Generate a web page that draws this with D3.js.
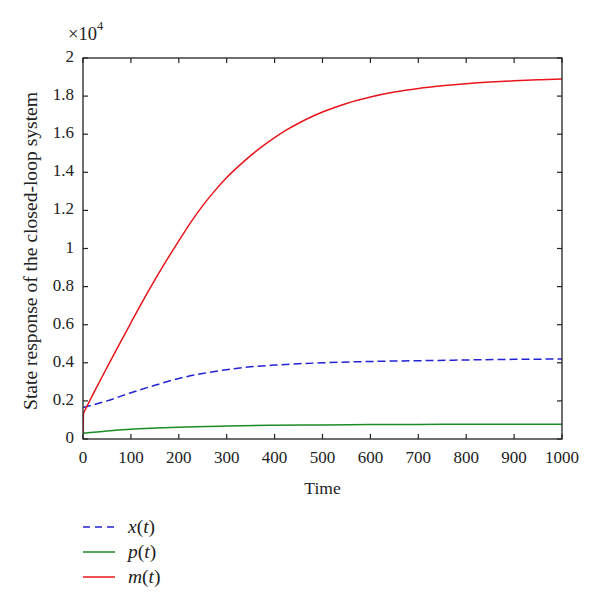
<!DOCTYPE html>
<html>
<head>
<meta charset="utf-8">
<script src="https://cdn.jsdelivr.net/npm/d3@7"></script>
<style>
  html, body { margin: 0; padding: 0; background: #fff; }
  svg { display: block; }
  text { font-family: "Liberation Serif", "DejaVu Serif", serif; fill: #222; }
</style>
</head>
<body>
<svg id="chart" width="600" height="609"></svg>
<script>
// ---- data ----
const xTicks = [0, 100, 200, 300, 400, 500, 600, 700, 800, 900, 1000];
const yTicks = [0, 2000, 4000, 6000, 8000, 10000, 12000, 14000, 16000, 18000, 20000];
const yTickLabels = ["0", "0.2", "0.4", "0.6", "0.8", "1", "1.2", "1.4", "1.6", "1.8", "2"];

const tX = [0, 50, 100, 150, 200, 250, 300, 350, 400, 450, 500, 600, 700, 800, 900, 1000];
const xVals = [1650, 2000, 2430, 2820, 3180, 3440, 3640, 3790, 3880, 3950, 4000, 4070, 4110, 4150, 4180, 4200];

const tP = [0, 50, 100, 150, 200, 300, 400, 500, 600, 700, 800, 900, 1000];
const pVals = [300, 420, 510, 570, 620, 680, 720, 740, 755, 765, 770, 775, 780];

const tM = [0, 1, 25, 50, 75, 100, 125, 150, 175, 200, 225, 250, 275, 300, 325, 350, 375, 400, 425, 450, 475, 500, 550, 600, 650, 700, 750, 800, 850, 900, 950, 1000];
const mVals = [300, 1360, 2550, 3750, 4930, 6100, 7250, 8350, 9400, 10400, 11375, 12250, 13025, 13725, 14325, 14875, 15375, 15825, 16225, 16575, 16887, 17162, 17612, 17952, 18212, 18402, 18542, 18652, 18737, 18802, 18852, 18897];

const seriesNames = ["x(t)", "p(t)", "m(t)"];
const seriesColors = ["#2323d6", "#1e8c24", "#e8161c"];

// ---- layout ----
const svg = d3.select("#chart");
const L = 83, R = 562, T = 58, B = 439;
const x = d3.scaleLinear().domain([0, 1000]).range([L, R]);
const y = d3.scaleLinear().domain([0, 20000]).range([B, T]);

const tickLen = 5;
const g = svg.append("g");

// ticks (inward, mirrored)
xTicks.forEach(v => {
  g.append("line").attr("x1", x(v)).attr("x2", x(v)).attr("y1", B).attr("y2", B - tickLen)
    .attr("stroke", "#222").attr("stroke-width", 1.2);
  g.append("line").attr("x1", x(v)).attr("x2", x(v)).attr("y1", T).attr("y2", T + tickLen)
    .attr("stroke", "#222").attr("stroke-width", 1.2);
  g.append("text").attr("x", x(v)).attr("y", 463).attr("text-anchor", "middle")
    .attr("font-size", 17).text(v);
});
yTicks.forEach((v, i) => {
  g.append("line").attr("x1", L).attr("x2", L + tickLen).attr("y1", y(v)).attr("y2", y(v))
    .attr("stroke", "#222").attr("stroke-width", 1.2);
  g.append("line").attr("x1", R).attr("x2", R - tickLen).attr("y1", y(v)).attr("y2", y(v))
    .attr("stroke", "#222").attr("stroke-width", 1.2);
  g.append("text").attr("x", 74).attr("y", y(v) + 4).attr("text-anchor", "end")
    .attr("font-size", 17).text(yTickLabels[i]);
});

// exponent label
const ex = g.append("text").attr("x", 68).attr("y", 40).attr("font-size", 18.5);
ex.append("tspan").text("\u00d710");
ex.append("tspan").attr("dy", -10).attr("font-size", 12.5).text("4");

// lines
const line = d3.line().x(d => x(d[0])).y(d => y(d[1])).curve(d3.curveMonotoneX);
const straight = d3.line().x(d => x(d[0])).y(d => y(d[1]));
const dataX = tX.map((t, i) => [t, xVals[i]]);
const dataP = tP.map((t, i) => [t, pVals[i]]);
const dataM = tM.map((t, i) => [t, mVals[i]]);

svg.append("clipPath").attr("id", "clip").append("rect")
  .attr("x", L).attr("y", T).attr("width", R - L).attr("height", B - T);
const lg = svg.append("g").attr("clip-path", "url(#clip)");
lg.append("path").datum(dataP).attr("d", line).attr("fill", "none")
  .attr("stroke", seriesColors[1]).attr("stroke-width", 1.5);
lg.append("path").datum(dataX).attr("d", line).attr("fill", "none")
  .attr("stroke", seriesColors[0]).attr("stroke-width", 1.5).attr("stroke-dasharray", "8,4");
// initial jump of m(t) drawn straight, remainder smooth
lg.append("path").datum(dataM.slice(0, 2)).attr("d", straight).attr("fill", "none")
  .attr("stroke", seriesColors[2]).attr("stroke-width", 1.5);
lg.append("path").datum(dataM.slice(1)).attr("d", line).attr("fill", "none")
  .attr("stroke", seriesColors[2]).attr("stroke-width", 1.5);

// frame
svg.append("rect").attr("x", L).attr("y", T).attr("width", R - L).attr("height", B - T)
  .attr("fill", "none").attr("stroke", "#222").attr("stroke-width", 1.3);

// axis titles
svg.append("text").attr("x", (L + R) / 2).attr("y", 494).attr("text-anchor", "middle")
  .attr("font-size", 17.5).text("Time");
svg.append("text").attr("transform", "translate(37,251) rotate(-90)")
  .attr("text-anchor", "middle").attr("font-size", 18.5)
  .attr("textLength", 318).attr("lengthAdjust", "spacingAndGlyphs")
  .text("State response of the closed-loop system");

// legend
const legY = [527, 552, 577];
seriesNames.forEach((name, i) => {
  const ln = svg.append("line").attr("x1", 83).attr("x2", 115).attr("y1", legY[i]).attr("y2", legY[i])
    .attr("stroke", seriesColors[i]).attr("stroke-width", 1.5);
  if (i === 0) ln.attr("stroke-dasharray", "7,5");
  const t = svg.append("text").attr("x", 128).attr("y", legY[i] + 6).attr("font-size", 19.5)
    .attr("font-style", "italic");
  const m = name.match(/^(\w)\((\w)\)$/);
  t.append("tspan").text(m[1]);
  t.append("tspan").attr("font-style", "normal").text("(");
  t.append("tspan").text(m[2]);
  t.append("tspan").attr("font-style", "normal").text(")");
});
</script>
</body>
</html>
